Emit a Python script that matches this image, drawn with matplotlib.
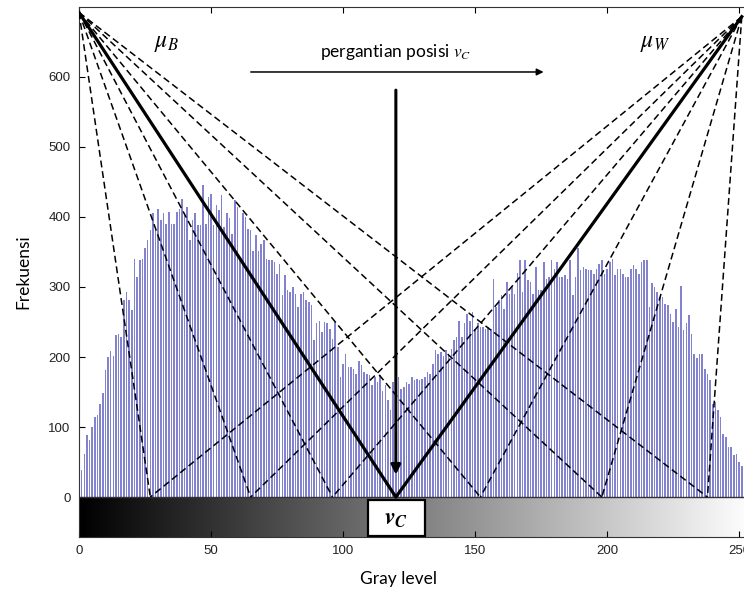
import matplotlib.pyplot as plt
import numpy as np
from matplotlib.patches import Rectangle

plt.rcParams['mathtext.fontset'] = 'stix'

# histogram counts for gray levels 0..255
counts = [50, 38, 62, 88, 81, 100, 114, 117, 133, 148, 181, 200, 209, 202, 231, 233,
          229, 281, 293, 281, 267, 340, 314, 338, 340, 355, 367, 381, 405, 381, 412, 395,
          405, 390, 407, 390, 390, 407, 412, 426, 405, 414, 367, 395, 405, 388, 388, 445,
          390, 428, 433, 388, 417, 410, 431, 386, 405, 398, 376, 424, 414, 340, 405, 400,
          383, 381, 352, 374, 352, 362, 367, 340, 338, 338, 336, 319, 333, 288, 317, 295,
          293, 300, 290, 271,
          290, 293, 281, 279, 274, 224, 248, 252, 236, 250, 248, 240, 226, 250, 214, 171,
          190, 205, 186, 186, 183, 176, 195, 188, 179, 176, 174, 160, 171, 164, 174, 152,
          160, 138, 124, 164,
          140,
          171, 155, 157, 164, 162, 171, 167, 169, 167, 169, 171, 179, 176, 190, 210, 205,
          207, 202, 210, 205, 212, 224, 229, 252, 229, 248, 262, 252, 264, 240, 248, 243,
          243, 240, 243, 240, 312, 271, 281, 288, 269, 307, 290, 300, 290,
          320,
          338, 293, 338, 310, 307, 290, 329, 295, 295, 336, 312, 314, 338, 326, 336, 314,
          314, 317, 312, 338, 288, 314, 355, 324, 329, 326, 324, 324, 319, 326, 333, 338,
          319, 326, 336, 340, 317, 326, 326, 319, 314, 314, 326, 331, 326, 319, 336, 338,
          338, 271, 305, 300, 293, 286, 286, 276, 274, 262, 250, 269, 243, 302, 238, 248,
          260, 233, 205, 198, 205, 205, 183, 176, 167, 133, 136, 124, 114, 90, 86, 71,
          71, 60, 62, 50,
          45, 40, 30, 25, 15]
gray = np.arange(len(counts))

# threshold candidates (where the V lines touch the axis)
cands = [27, 65, 96, 152, 198, 238]
vc = 120
left_top = (0, 692)
right_top = (251, 686)

fig = plt.figure(figsize=(7.44, 5.91), dpi=100)
ax = fig.add_axes([0.1062, 0.0914, 0.905, 0.897])

ax.bar(gray, counts, width=0.6, color='#8282cf', zorder=2)

# gray level ramp under the axis
ramp = np.linspace(0, 1, 256).reshape(1, -1)
ax.imshow(ramp, cmap='gray', aspect='auto', extent=[0, 255, -57, 0], zorder=1)
ax.axhline(0, color='#333333', lw=1, zorder=3)

for c in cands:
    ax.plot([left_top[0], c], [left_top[1], 0], color='k', lw=1.1, dashes=(4.5, 2.5), zorder=4)
    ax.plot([right_top[0], c], [right_top[1], 0], color='k', lw=1.1, dashes=(4.5, 2.5), zorder=4)
ax.plot([left_top[0], vc, right_top[0]], [left_top[1], 0, right_top[1]], color='k', lw=2.3, zorder=5)

ax.annotate('', xy=(vc, 28), xytext=(vc, 585),
            arrowprops=dict(arrowstyle='-|>', lw=2.2, color='k', mutation_scale=14), zorder=6)
ax.annotate('', xy=(177, 607), xytext=(64, 607),
            arrowprops=dict(arrowstyle='-|>', lw=1.1, color='k', mutation_scale=10))

ax.text(vc, 636, r'pergantian posisi $v_C$', ha='center', va='center',
        fontsize=12.5, family='Lato')
ax.text(33, 650, r'$\mu_B$', ha='center', va='center', fontsize=17)
ax.text(218, 650, r'$\mu_W$', ha='center', va='center', fontsize=17)

ax.add_patch(Rectangle((109.4, -56), 21.6, 51.5, facecolor='white', edgecolor='k', lw=1.6, zorder=6))
ax.text(vc, -30, r'$\mathbfit{v}_{\mathbfit{C}}$', ha='center', va='center', fontsize=17, zorder=7)

ax.set_xlim(0, 255)
ax.set_ylim(-57, 700)
ax.set_xticks([0, 50, 100, 150, 200, 250])
ax.set_yticks([0, 100, 200, 300, 400, 500, 600])
ax.tick_params(direction='in', top=True, right=True, labelsize=9.5, labelcolor='#222222',
               length=4, pad=6)
for s in ax.spines.values():
    s.set_color('#333333')
for lab in ax.get_xticklabels() + ax.get_yticklabels():
    lab.set_family('Liberation Sans')

ax.set_xlabel('Gray level', family='Lato', fontsize=12.5, labelpad=10)
ax.xaxis.label.set_x(0.475)
ax.set_ylabel('Frekuensi', family='Lato', fontsize=12.5, labelpad=12)

fig.savefig('out.png', dpi=100)
